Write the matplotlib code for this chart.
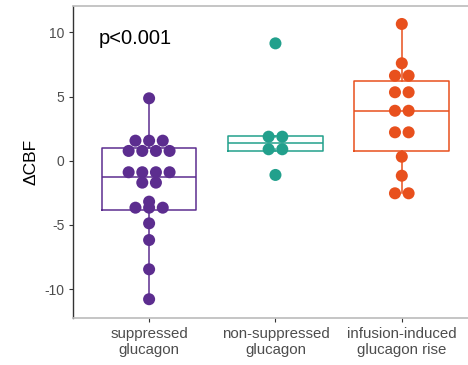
import numpy as np
import matplotlib.pyplot as plt

plt.rcParams['font.family'] = ['Liberation Sans', 'DejaVu Sans']

# group labels and colours
categories = ['suppressed\nglucagon', 'non-suppressed\nglucagon', 'infusion-induced\nglucagon rise']
colors = ['#5C2D8F', '#22A08C', '#E8501D']

# dot values (dotplot bin centres)
suppressed = [4.86, 1.56, 1.56, 1.56, 0.76, 0.76, 0.76, 0.76, -0.90, -0.90, -0.90, -0.90,
              -1.71, -1.71, -3.19, -3.66, -3.66, -3.66, -4.88, -6.18, -8.46, -10.79]
non_suppressed = [9.14, 1.87, 1.87, 0.89, 0.89, -1.11]
infusion_rise = [10.65, 7.59, 6.62, 6.62, 5.33, 5.33, 3.89, 3.89, 2.21, 2.21,
                 0.31, -1.17, -2.54, -2.54]
groups = [suppressed, non_suppressed, infusion_rise]

# box summaries: whisker low, q1, median, q3, whisker high
whislo = [-10.79, 0.89, -2.54]
q1 = [-3.84, 0.76, 0.73]
med = [-1.25, 1.40, 3.89]
q3 = [0.97, 1.95, 6.23]
whishi = [4.86, 1.87, 10.65]

fig = plt.figure(figsize=(4.68, 3.65), dpi=100)
ax = fig.add_axes([73.3 / 468, (365 - 317.7) / 365, (477.6 - 73.3) / 468, (317.7 - 6) / 365])

stats = []
for i in range(3):
    stats.append(dict(whislo=whislo[i], q1=q1[i], med=med[i], q3=q3[i], whishi=whishi[i], fliers=[]))

for i in range(3):
    ax.bxp([stats[i]], positions=[i + 1], widths=0.75, showfliers=False, showcaps=False,
           boxprops=dict(color=colors[i], linewidth=1.1),
           whiskerprops=dict(color=colors[i], linewidth=1.1),
           medianprops=dict(color=colors[i], linewidth=1.1))

# stack equal values side by side, centred on the group position
step = 0.108
for i, vals in enumerate(groups):
    vals = np.array(vals)
    for v in np.unique(vals):
        n = np.sum(vals == v)
        xs = i + 1 + (np.arange(n) - (n - 1) / 2) * step
        ax.scatter(xs, [v] * n, s=75, color=colors[i], edgecolors='none', zorder=3)

ax.text(0.6, 9.5, 'p<0.001', fontsize=14.5, color='black', va='center', ha='left')

ax.set_xlim(0.4, 3.6)
ax.set_ylim(-12.23, 12.05)
ax.set_xticks([1, 2, 3])
ax.set_xticklabels(categories, fontsize=10.8, color='#4D4D4D', linespacing=1.1)
ax.set_yticks([-10, -5, 0, 5, 10])
ax.set_yticklabels(['-10', '-5', '0', '5', '10'], fontsize=10, color='#4D4D4D')
ax.tick_params(axis='both', length=3, width=0.8, color='#333333')
ax.tick_params(axis='x', pad=4)
ax.set_ylabel('ΔCBF', fontsize=12.5, labelpad=4)

ax.spines['left'].set_color('#333333')
ax.spines['left'].set_linewidth(1.0)
ax.spines['top'].set_color('#BBBBBB')
ax.spines['bottom'].set_color('#BBBBBB')
ax.spines['top'].set_linewidth(1.2)
ax.spines['bottom'].set_linewidth(1.2)
ax.spines['right'].set_visible(False)

fig.savefig('out.png', dpi=100)
